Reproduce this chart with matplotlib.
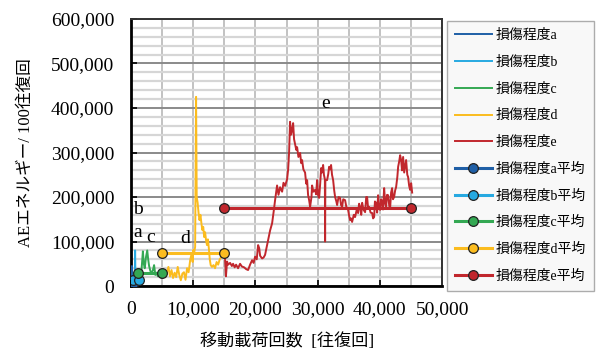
import matplotlib
matplotlib.use("Agg")
import matplotlib.pyplot as plt
from matplotlib.ticker import FuncFormatter, MultipleLocator

SERIF = ["Liberation Serif", "Noto Sans CJK JP", "DejaVu Sans"]
plt.rcParams["font.family"] = SERIF

# Damage level a
a_x = [0, 80, 150, 220, 300]
a_y = [2000, 6000, 45000, 5000, 2000]

# Damage level b
b_x = [300, 400, 500, 600, 650, 700, 800, 900, 1000, 1100]
b_y = [8000, 10000, 30000, 15000, 80000, 20000, 10000, 6000, 9000, 12000]

# Damage level c
c_x = [1100, 1300, 1500, 1700, 1900, 2050, 2200, 2400, 2600, 2750, 2900,
       3100, 3300, 3500, 3700, 3900, 4100, 4300, 4500, 4700, 4900, 5000]
c_y = [25, 18, 15, 40, 78, 50, 40, 65, 80, 60, 45,
       34, 30, 35, 47, 25, 30, 22, 25, 20, 18, 22]
c_y = [v * 1000 for v in c_y]

# Damage level d
d_x = [5000, 5250, 5500, 5750, 6000, 6250, 6500, 6750, 7000, 7250, 7500,
       7750, 8000, 8250, 8500, 8750, 9000, 9250, 9500, 9750, 9900, 10000,
       10150, 10300, 10450, 10550, 10700, 10850, 11000, 11150, 11300, 11450,
       11600, 11750, 11900, 12050, 12200, 12350, 12500, 12650, 12800, 13000,
       13250, 13500, 13750, 14000, 14250, 14500, 14750, 15000]
d_y = [25, 32, 20, 31, 43, 22, 36, 18, 30, 20, 43,
       25, 13, 28, 31, 14, 40, 31, 58, 74, 54, 81,
       76, 88, 425, 200, 187, 164, 148, 160, 142, 126,
       133, 110, 121, 103, 92, 105, 85, 60, 47, 43,
       47, 40, 54, 48, 60, 65, 74, 70]
d_y = [v * 1000 for v in d_y]

# Damage level e
e_x = [15100, 15250, 15430, 15600, 15920, 16200, 16400, 16650, 16880, 17200,
       17520, 17800, 18170, 18500, 18810, 19130, 19450, 19700, 19940, 20200,
       20420, 20600, 20740, 21060, 21300, 21540, 22030, 22350, 22670, 22900,
       23150, 23470, 23700, 23950, 24280, 24500, 24760, 25080, 25250, 25400,
       25560, 25720, 25880, 26050, 26200, 26370, 26550, 26690, 26900, 27170,
       27350, 27490, 27700, 27970, 28150, 28300, 28450, 28620, 28780, 29000,
       29100, 29300, 29580, 29750, 29900, 30050, 30230, 30400, 30550, 30700,
       30870, 31000, 31150, 31190, 31230, 31510, 31700, 31830, 32000, 32150,
       32300, 32480, 32650, 32800, 33000, 33120, 33350, 33600, 33750, 33920,
       34100, 34400, 34600, 34890, 35050, 35210, 35350, 35530, 35800, 36010,
       36250, 36500, 36650, 36820, 37000, 37140, 37350, 37620, 37800, 37940,
       38100, 38260, 38500, 38750, 38900, 39070, 39200, 39390, 39550, 39710,
       39850, 40030, 40200, 40350, 40500, 40680, 40850, 41000, 41150, 41320,
       41500, 41640, 41800, 41960, 42100, 42280, 42450, 42600, 42800, 42930,
       43100, 43250, 43410, 43550, 43730, 43900, 44050, 44210, 44400, 44530,
       44700, 44860, 45020, 45180]
e_y = [62, 22, 55, 48, 52, 45, 50, 42, 48, 40,
       50, 44, 42, 38, 36, 48, 58, 52, 66, 60,
       92, 85, 68, 62, 64, 70, 103, 125, 141, 165,
       193, 226, 205, 222, 212, 232, 225, 240, 262, 300,
       369, 340, 350, 366, 330, 318, 306, 312, 290, 299,
       276, 283, 262, 255, 230, 238, 205, 193, 178, 200,
       226, 212, 216, 206, 238, 205, 198, 230, 265, 255,
       272, 250, 240, 100, 238, 238, 252, 268, 262, 272,
       250, 238, 215, 200, 190, 182, 200, 198, 182, 178,
       195, 193, 178, 171, 158, 148, 152, 144, 160, 155,
       170, 164, 185, 178, 160, 187, 172, 166, 200, 200,
       175, 178, 165, 164, 152, 155, 190, 187, 165, 204,
       180, 171, 195, 189, 172, 220, 185, 178, 205, 204,
       180, 175, 210, 220, 195, 200, 215, 222, 245, 268,
       280, 294, 283, 260, 290, 255, 268, 283, 250, 245,
       225, 216, 231, 210]
e_y = [v * 1000 for v in e_y]

# Average level of each damage stage (start and end of the stage)
mean_x = {"a": [0, 300], "b": [300, 1200], "c": [1100, 5000],
          "d": [5000, 15000], "e": [15000, 45000]}
mean_y = {"a": 4000, "b": 14000, "c": 29000, "d": 74000, "e": 175000}

stage_labels = ["a", "b", "c", "d", "e"]
label_pos = {"a": (1000, 121000), "b": (1100, 173000), "c": (3200, 108000),
             "d": (8700, 106000), "e": (31300, 409000)}

colors = {"a": "#1f5fa6", "b": "#27a9e1", "c": "#34a853",
          "d": "#fbbc1f", "e": "#c1272d"}

series = {"a": (a_x, a_y), "b": (b_x, b_y), "c": (c_x, c_y),
          "d": (d_x, d_y), "e": (e_x, e_y)}

fig = plt.figure(figsize=(6.04, 3.58), dpi=100)
ax = fig.add_axes([0.217, 0.201, 0.515, 0.746])

for k in stage_labels:
    xs, ys = series[k]
    ax.plot(xs, ys, color=colors[k], lw=1.4, label="損傷程度" + k, zorder=3)

for k in stage_labels:
    ax.plot(mean_x[k], [mean_y[k]] * 2, color=colors[k], lw=2.2,
            marker="o", ms=7, mec="#222222", mew=0.9,
            label="損傷程度" + k + "平均", zorder=4)

for k in stage_labels:
    x, y = label_pos[k]
    ax.text(x, y, k, ha="center", va="center", fontsize=14,
            family=SERIF, zorder=5)

ax.set_xlim(0, 50000)
ax.set_ylim(0, 600000)
ax.xaxis.set_major_locator(MultipleLocator(10000))
ax.xaxis.set_minor_locator(MultipleLocator(5000))
ax.yaxis.set_major_locator(MultipleLocator(100000))
ax.yaxis.set_minor_locator(MultipleLocator(20000))

fmt = FuncFormatter(lambda v, p: f"{int(v):,}")
ax.xaxis.set_major_formatter(fmt)
ax.yaxis.set_major_formatter(fmt)

ax.grid(which="minor", axis="y", color="#d6d6d6", lw=1.6, zorder=0)
ax.grid(which="major", axis="y", color="#8a8a8a", lw=1.4, zorder=1)
ax.grid(which="both", axis="x", color="#c2c2c2", lw=1.4, zorder=0)
ax.set_axisbelow(True)

ax.tick_params(axis="both", which="major", direction="in", length=4,
               width=1.2, labelsize=14)
ax.tick_params(axis="y", which="major", pad=12)
ax.tick_params(axis="x", which="major", pad=11)
ax.tick_params(axis="both", which="minor", length=0)

for side in ["left", "bottom"]:
    ax.spines[side].set_linewidth(2.0)
    ax.spines[side].set_color("black")
for side in ["top", "right"]:
    ax.spines[side].set_linewidth(1.4)
    ax.spines[side].set_color("#333333")

ax.set_xlabel("移動載荷回数  [往復回]", fontsize=12.3, labelpad=11)
ax.set_ylabel("AEエネルギー/ 100往復回", fontsize=12, labelpad=12)

leg = ax.legend(loc="upper left", bbox_to_anchor=(1.016, 0.993),
                borderaxespad=0, frameon=True, fancybox=False, fontsize=10,
                handlelength=2.6, labelspacing=0.98, borderpad=0.6,
                handletextpad=0.3)
leg.get_frame().set_facecolor("#f7f7f7")
leg.get_frame().set_edgecolor("#999999")
leg.get_frame().set_linewidth(1.0)

fig.savefig("out.png", dpi=100)
